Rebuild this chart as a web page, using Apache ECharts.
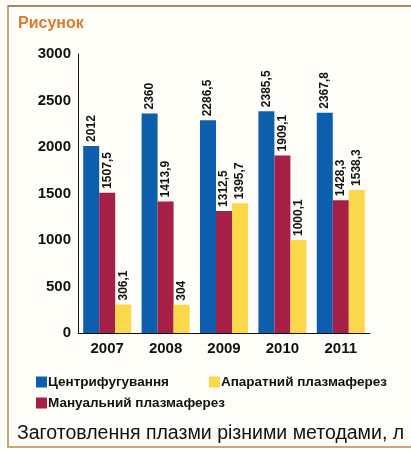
<!DOCTYPE html>
<html>
<head>
<meta charset="utf-8">
<script src="https://cdn.jsdelivr.net/npm/echarts@6/dist/echarts.min.js"></script>
<style>
    html, body { margin: 0; padding: 0; background: #fffdf8; }
    #chart { width: 411px; height: 451px; }
</style>
</head>
<body>
<div id="chart"></div>
<script>
    var years = ['2007', '2008', '2009', '2010', '2011']
    var centrif = [2012, 2360, 2286.5, 2385.5, 2367.8]
    var manual = [1507.5, 1413.9, 1312.5, 1909.1, 1428.3]
    var aparat = [306.1, 304, 1395.7, 1000.1, 1538.3]
    var yTicks = [0, 500, 1000, 1500, 2000, 2500, 3000]

    var fontMain = 'Liberation Sans, Arial, sans-serif'

    var myChart = echarts.init(document.getElementById('chart'))

    function barLabel() {
        return {
            show: true,
            position: 'top',
            rotate: 90,
            align: 'left',
            verticalAlign: 'middle',
            distance: 4,
            fontFamily: fontMain,
            fontWeight: 'bold',
            fontSize: 12,
            color: '#111',
            formatter: function (p) {
                return String(p.value).replace('.', ',')
            }
        }
    }

    var option = {
        backgroundColor: '#fffdf8',
        animation: false,
        graphic: [
            {
                type: 'rect',
                shape: { x: 8, y: 6, width: 420, height: 441 },
                style: { fill: 'transparent', stroke: '#c9a67c', lineWidth: 2 }
            },
            {
                type: 'line',
                shape: { x1: 8, y1: 6, x2: 411, y2: 6 },
                style: { stroke: '#a4876a', lineWidth: 2 }
            }
        ],
        title: [
            {
                text: 'Рисунок',
                left: 13,
                top: 11,
                textStyle: { fontFamily: fontMain, fontWeight: 'bold', fontSize: 16, color: '#dc7a2e' }
            },
            {
                text: 'Заготовлення плазми різними методами, л',
                left: 12,
                top: 419,
                textStyle: { fontFamily: fontMain, fontWeight: 'normal', fontSize: 19.5, color: '#111' }
            }
        ],
        legend: [
            {
                data: ['Центрифугування', 'Апаратний плазмаферез'],
                left: 31,
                top: 370,
                itemWidth: 11,
                itemHeight: 11,
                itemGap: 40,
                icon: 'rect',
                textStyle: { fontFamily: fontMain, fontWeight: 'bold', fontSize: 13.5, color: '#111', padding: [0, 0, 0, -4] }
            },
            {
                data: ['Мануальний плазмаферез'],
                left: 31,
                top: 391,
                itemWidth: 11,
                itemHeight: 11,
                icon: 'rect',
                textStyle: { fontFamily: fontMain, fontWeight: 'bold', fontSize: 13.5, color: '#111', padding: [0, 0, 0, -4] }
            }
        ],
        grid: {
            left: 78,
            right: 41,
            top: 54,
            bottom: 118
        },
        xAxis: {
            type: 'category',
            data: years,
            axisLine: { show: true, lineStyle: { color: '#111', width: 1 } },
            axisTick: { show: false },
            axisLabel: { fontFamily: fontMain, fontWeight: 'bold', fontSize: 15, color: '#111', margin: 8 }
        },
        yAxis: {
            type: 'value',
            min: 0,
            max: 3000,
            interval: 500,
            axisLine: { show: true, lineStyle: { color: '#111', width: 1 } },
            axisTick: { show: false },
            splitLine: { show: false },
            axisLabel: {
                fontFamily: fontMain, fontWeight: 'bold', fontSize: 15, color: '#111', margin: 7,
                formatter: function (v) { return yTicks.indexOf(v) >= 0 ? String(v) : '' }
            }
        },
        series: [
            {
                name: 'Центрифугування',
                type: 'bar',
                data: centrif,
                barWidth: 16,
                barGap: '0%',
                itemStyle: { color: '#0d5ead' },
                label: barLabel()
            },
            {
                name: 'Мануальний плазмаферез',
                type: 'bar',
                data: manual,
                barWidth: 16,
                barGap: '0%',
                itemStyle: { color: '#a61f47' },
                label: barLabel()
            },
            {
                name: 'Апаратний плазмаферез',
                type: 'bar',
                data: aparat,
                barWidth: 16,
                barGap: '0%',
                itemStyle: { color: '#fbd84a' },
                label: barLabel()
            }
        ]
    }
    myChart.setOption(option)
</script>
</body>
</html>
